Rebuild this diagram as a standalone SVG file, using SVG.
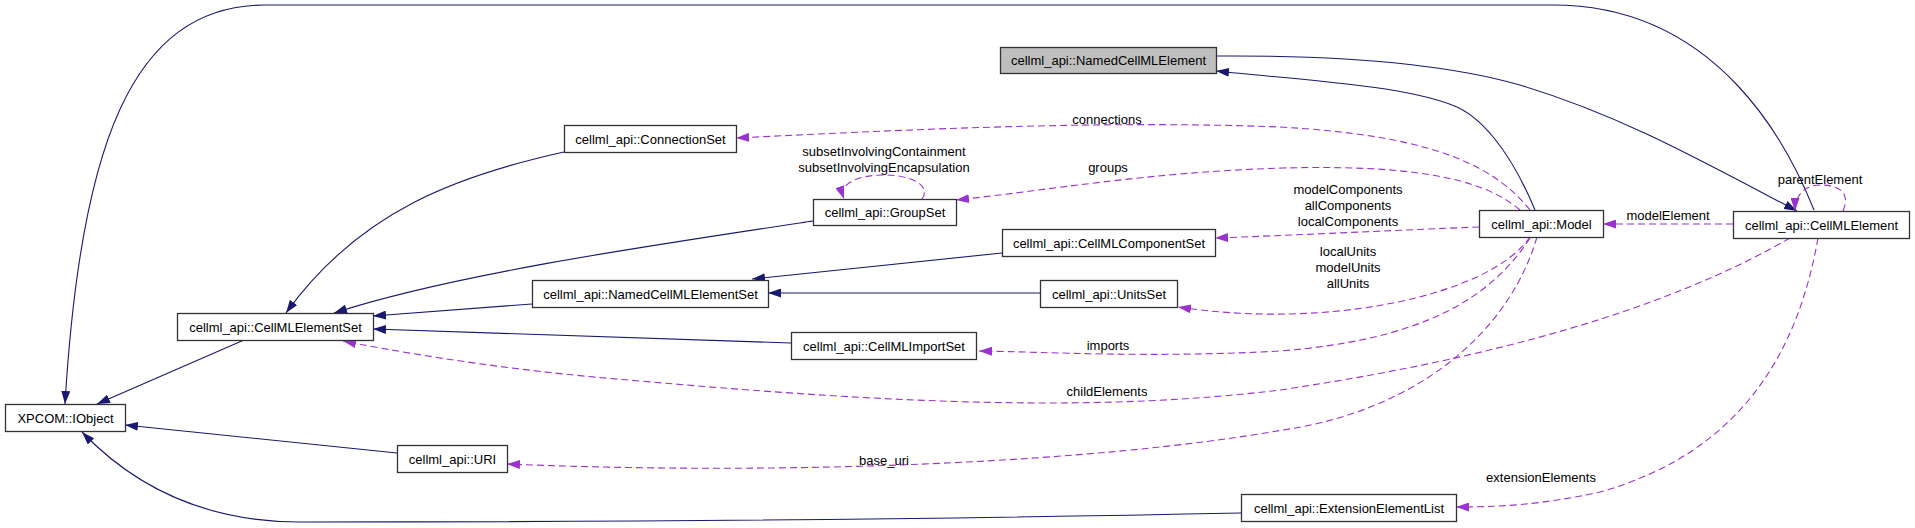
<svg xmlns="http://www.w3.org/2000/svg" width="1915" height="528" viewBox="0 0 1915 528">
<style>
.node rect{fill:#ffffff;stroke:#333333;stroke-width:1.3}
.node.main rect{fill:#bfbfbf}
.node text{font-family:"Liberation Sans",Arial,sans-serif;font-size:13px;fill:#000;text-anchor:middle}
.inh{fill:none;stroke:#191970;stroke-width:1.1}
.use{fill:none;stroke:#9a32cd;stroke-width:1.1;stroke-dasharray:7,4}
.lbl{font-family:"Liberation Sans",Arial,sans-serif;font-size:13px;fill:#000;text-anchor:middle}
</style>
<defs>
<marker id="aInh" viewBox="0 0 13 9" refX="13" refY="4.5" markerWidth="13" markerHeight="9" markerUnits="userSpaceOnUse" orient="auto">
<path d="M0,0 L13,4.5 L0,9 z" fill="#191970"/>
</marker>
<marker id="aUse" viewBox="0 0 13 9" refX="13" refY="4.5" markerWidth="13" markerHeight="9" markerUnits="userSpaceOnUse" orient="auto">
<path d="M0,0 L13,4.5 L0,9 z" fill="#9a32cd"/>
</marker>
</defs>
<rect width="1915" height="528" fill="#ffffff"/>
<g id="connectors">
<path class="inh" marker-end="url(#aInh)" d="M244,340 L97,404"/>
<path class="inh" marker-end="url(#aInh)" d="M397,453 L125,425"/>
<path class="inh" marker-end="url(#aInh)" d="M1241,513 C1000,518 700,522 300,522 C200,522 130,482 82,432"/>
<path class="inh" marker-end="url(#aInh)" d="M1814,210 C1790,150 1720,5 1553,5 L265,5 C130,5 80,150 65,404"/>
<path class="inh" marker-end="url(#aInh)" d="M1216,56 C1350,55 1450,65 1520,85 C1620,115 1700,160 1797,211"/>
<path class="inh" marker-end="url(#aInh)" d="M1535,210 C1510,150 1480,115 1452,105 C1400,85 1300,80 1216,71"/>
<path class="inh" marker-end="url(#aInh)" d="M564,152 C460,175 360,210 286,313"/>
<path class="inh" marker-end="url(#aInh)" d="M813,221 C640,247 450,275 334,313"/>
<path class="inh" marker-end="url(#aInh)" d="M532,304 L373,316"/>
<path class="inh" marker-end="url(#aInh)" d="M791,343 L373,329"/>
<path class="inh" marker-end="url(#aInh)" d="M1002,253 L752,279"/>
<path class="inh" marker-end="url(#aInh)" d="M1040,293 L768,293"/>
<path class="use" marker-end="url(#aUse)" d="M1530,210 C1490,160 1420,135 1280,127 C1100,120 900,130 736,138"/>
<path class="use" marker-end="url(#aUse)" d="M1520,210 C1480,175 1400,165 1283,168 C1150,172 1050,190 956,200"/>
<path class="use" marker-end="url(#aUse)" d="M922,199 C932,185 910,175 885,175 C860,175 838,182 844,199"/>
<path class="use" marker-end="url(#aUse)" d="M1479,227 C1400,230 1300,235 1215,238"/>
<path class="use" marker-end="url(#aUse)" d="M1530,237 C1490,295 1330,330 1178,307"/>
<path class="use" marker-end="url(#aUse)" d="M1530,238 C1490,300 1420,340 1280,351 C1150,358 1050,352 979,351"/>
<path class="use" marker-end="url(#aUse)" d="M1537,237 C1510,330 1420,410 1283,430 C1100,462 800,476 507,464"/>
<path class="use" marker-end="url(#aUse)" d="M1790,238 C1700,290 1550,350 1280,390 C1100,412 900,404 640,381 C500,370 400,352 343,341"/>
<path class="use" marker-end="url(#aUse)" d="M1818,238 C1800,340 1750,450 1600,492 C1540,505 1500,507 1456,507"/>
<path class="use" marker-end="url(#aUse)" d="M1733,224 L1603,224"/>
<path class="use" marker-end="url(#aUse)" d="M1843,211 C1852,190 1835,185 1820,185 C1805,185 1795,195 1795,211"/>
<text class="lbl" x="1107" y="123.5">connections</text>
<text class="lbl" x="884" y="155.5">subsetInvolvingContainment</text>
<text class="lbl" x="884" y="171.5">subsetInvolvingEncapsulation</text>
<text class="lbl" x="1108" y="171.5">groups</text>
<text class="lbl" x="1348" y="193.5">modelComponents</text>
<text class="lbl" x="1348" y="209.5">allComponents</text>
<text class="lbl" x="1348" y="225.5">localComponents</text>
<text class="lbl" x="1348" y="256">localUnits</text>
<text class="lbl" x="1348" y="272">modelUnits</text>
<text class="lbl" x="1348" y="288">allUnits</text>
<text class="lbl" x="1108" y="349.5">imports</text>
<text class="lbl" x="1107" y="395.5">childElements</text>
<text class="lbl" x="884" y="465">base_uri</text>
<text class="lbl" x="1541" y="481.5">extensionElements</text>
<text class="lbl" x="1668" y="220">modelElement</text>
<text class="lbl" x="1820" y="183.5">parentElement</text>
</g>
<g id="n_IObject" class="node"><rect x="5.5" y="404.5" width="120" height="27"/><text x="65.5" y="422.5">XPCOM::IObject</text></g>
<g id="n_CellMLElementSet" class="node"><rect x="177.5" y="313.5" width="196" height="27"/><text x="275.5" y="331.5">cellml_api::CellMLElementSet</text></g>
<g id="n_NamedCellMLElementSet" class="node"><rect x="532.5" y="280.5" width="236" height="27"/><text x="650.5" y="298.5">cellml_api::NamedCellMLElementSet</text></g>
<g id="n_URI" class="node"><rect x="397.5" y="445.5" width="110" height="27"/><text x="452.5" y="463.5">cellml_api::URI</text></g>
<g id="n_UnitsSet" class="node"><rect x="1040.5" y="280.5" width="137" height="27"/><text x="1109" y="298.5">cellml_api::UnitsSet</text></g>
<g id="n_CellMLImportSet" class="node"><rect x="791.5" y="332.5" width="185" height="27"/><text x="884" y="350.5">cellml_api::CellMLImportSet</text></g>
<g id="n_ExtensionElementList" class="node"><rect x="1241.5" y="494.5" width="215" height="27"/><text x="1349" y="512.5">cellml_api::ExtensionElementList</text></g>
<g id="n_NamedCellMLElement" class="node main"><rect x="1000.5" y="47.5" width="216" height="26"/><text x="1108.5" y="65">cellml_api::NamedCellMLElement</text></g>
<g id="n_ConnectionSet" class="node"><rect x="564.5" y="125.5" width="172" height="27"/><text x="650.5" y="143.5">cellml_api::ConnectionSet</text></g>
<g id="n_GroupSet" class="node"><rect x="813.5" y="199.5" width="143" height="26"/><text x="885" y="217">cellml_api::GroupSet</text></g>
<g id="n_CellMLComponentSet" class="node"><rect x="1002.5" y="229.5" width="213" height="27"/><text x="1109" y="247.5">cellml_api::CellMLComponentSet</text></g>
<g id="n_Model" class="node"><rect x="1479.5" y="210.5" width="124" height="27"/><text x="1541.5" y="228.5">cellml_api::Model</text></g>
<g id="n_CellMLElement" class="node"><rect x="1733.5" y="211.5" width="176" height="27"/><text x="1821.5" y="229.5">cellml_api::CellMLElement</text></g>
</svg>
